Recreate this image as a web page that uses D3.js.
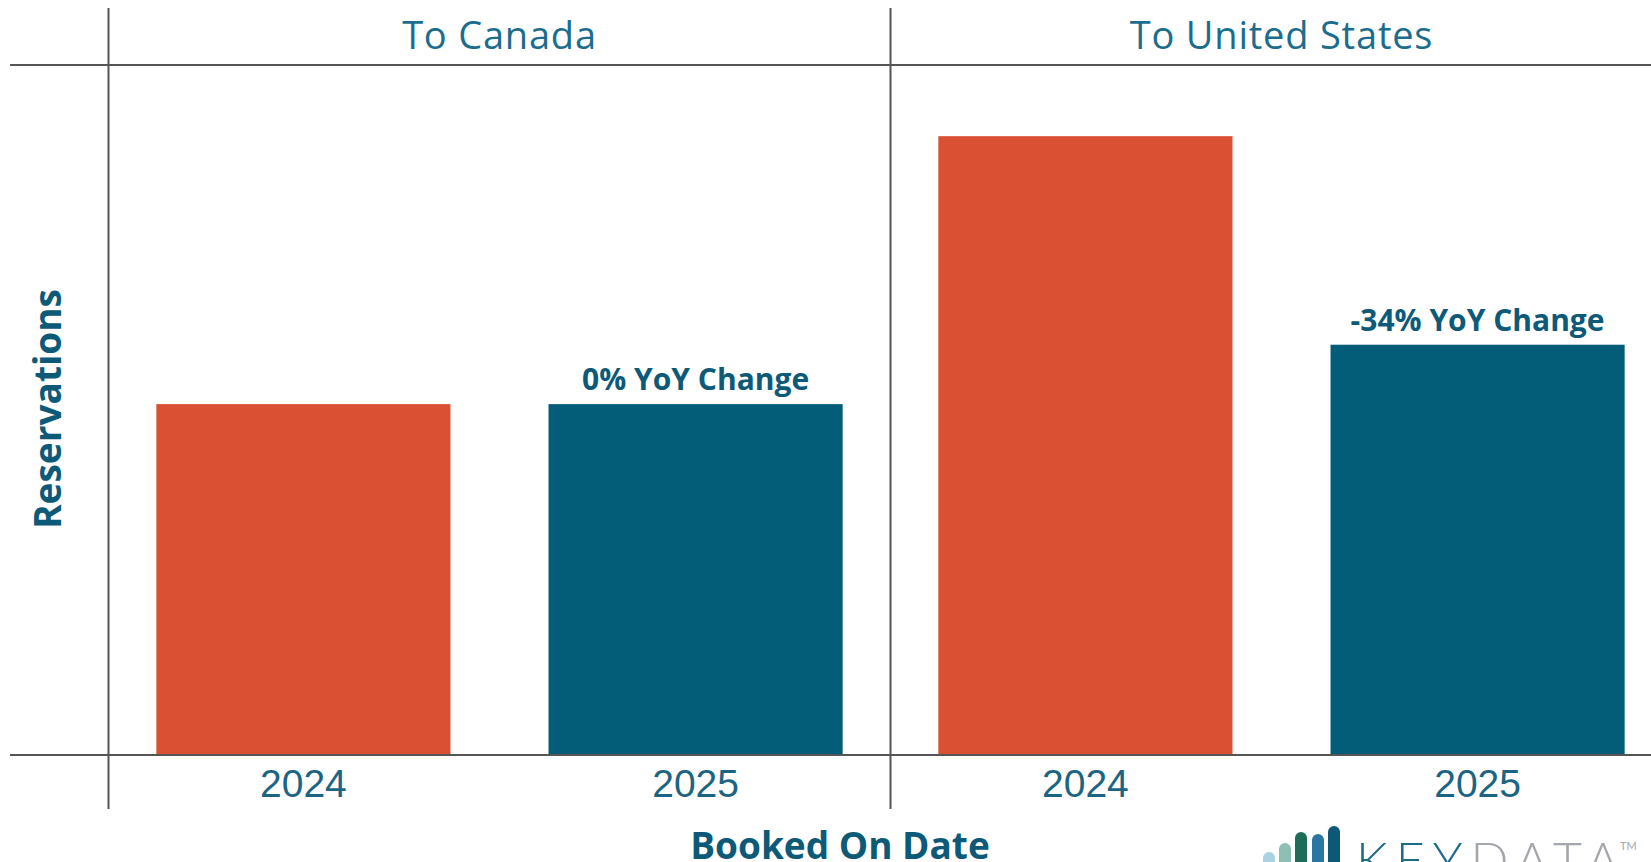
<!DOCTYPE html>
<html>
<head>
<meta charset="utf-8">
<script src="https://cdn.jsdelivr.net/npm/d3@7"></script>
<style>
  body { margin: 0; background: #fff; overflow: hidden; }
  svg { display: block; }
</style>
</head>
<body>
<svg id="chart"></svg>
<script>
var facets = ["To Canada", "To United States"];
var years = ["2024", "2025"];
// relative reservations, US 2024 = 100
var canadaValues = [56.7, 56.7];
var usValues = [100, 66.3];
var yoyLabels = ["0% YoY Change", "-34% YoY Change"];

var yearColors = {"2024": "#da5033", "2025": "#035c78"};

var width = 1651, height = 862;
var plotTop = 65, plotBottom = 755;
var panelLeft = 108.5, panelWidth = 782;

var data = [];
facets.forEach(function(f, i){
  var vals = i == 0 ? canadaValues : usValues;
  years.forEach(function(y, j){
    data.push({facet: f, year: y, value: vals[j]});
  });
});

var svg = d3.select("#chart")
  .attr("width", width)
  .attr("height", height);

var fx = d3.scaleBand()
  .domain(facets)
  .range([panelLeft, panelLeft + panelWidth * facets.length]);

var x = d3.scaleBand()
  .domain(years)
  .range([0, panelWidth])
  .paddingInner(0.25)
  .paddingOuter(0.122);

var y = d3.scaleLinear()
  .domain([0, 111.5])
  .range([plotBottom, plotTop]);

var lineColor = "#555";

// bars
svg.append("g")
  .selectAll("rect")
  .data(data)
  .enter().append("rect")
    .attr("x", function(d){ return fx(d.facet) + x(d.year); })
    .attr("y", function(d){ return y(d.value); })
    .attr("width", x.bandwidth())
    .attr("height", function(d){ return y(0) - y(d.value); })
    .attr("fill", function(d){ return yearColors[d.year]; });

// frame lines
svg.append("line")
  .attr("x1", 10).attr("x2", width)
  .attr("y1", plotTop).attr("y2", plotTop)
  .attr("stroke", lineColor).attr("stroke-width", 2);

svg.append("line")
  .attr("x1", 10).attr("x2", width)
  .attr("y1", y(0)).attr("y2", y(0))
  .attr("stroke", lineColor).attr("stroke-width", 2);

svg.append("g")
  .selectAll("line")
  .data(facets)
  .enter().append("line")
    .attr("x1", function(d){ return fx(d); })
    .attr("x2", function(d){ return fx(d); })
    .attr("y1", 8).attr("y2", 809)
    .attr("stroke", lineColor).attr("stroke-width", 2);

// facet titles
svg.append("g")
  .selectAll("text")
  .data(facets)
  .enter().append("text")
    .attr("x", function(d){ return fx(d) + panelWidth / 2; })
    .attr("y", 49)
    .attr("text-anchor", "middle")
    .style("font-family", "'Open Sans', sans-serif")
    .style("font-size", "38px")
    .style("letter-spacing", "0.8px")
    .style("fill", "#1b6d8d")
    .text(function(d){ return d; });

// year tick labels
svg.append("g")
  .selectAll("text")
  .data(data)
  .enter().append("text")
    .attr("x", function(d){ return fx(d.facet) + x(d.year) + x.bandwidth() / 2; })
    .attr("y", 797)
    .attr("text-anchor", "middle")
    .style("font-family", "'Liberation Sans', Arial, sans-serif")
    .style("font-size", "39px")
    .style("fill", "#1b6483")
    .text(function(d){ return d.year; });

// YoY labels over 2025 bars
svg.append("g")
  .selectAll("text")
  .data(data.filter(function(d){ return d.year == "2025"; }))
  .enter().append("text")
    .attr("x", function(d){ return fx(d.facet) + x(d.year) + x.bandwidth() / 2; })
    .attr("y", function(d){ return y(d.value) - 14; })
    .attr("text-anchor", "middle")
    .style("font-family", "'Open Sans', sans-serif")
    .style("font-weight", "bold")
    .style("font-size", "30px")
    .style("fill", "#0d5a78")
    .text(function(d, i){ return yoyLabels[i]; });

// axis titles
svg.append("text")
  .attr("x", 840)
  .attr("y", 859)
  .attr("text-anchor", "middle")
  .style("font-family", "'Open Sans', sans-serif")
  .style("font-weight", "bold")
  .style("font-size", "37px")
  .style("fill", "#0d5a78")
  .text("Booked On Date");

svg.append("text")
  .attr("transform", "translate(61,409) rotate(-90)")
  .attr("text-anchor", "middle")
  .style("font-family", "'Open Sans', sans-serif")
  .style("font-weight", "bold")
  .style("font-size", "37px")
  .style("fill", "#0d5a78")
  .text("Reservations");

// KEYDATA logo (bottom right, cut by the frame)
var logo = svg.append("g");
var logoBars = [
  {x: 1263, top: 852, c: "#a9d3e0"},
  {x: 1279, top: 843, c: "#8ebfb4"},
  {x: 1295, top: 832, c: "#1d6d58"},
  {x: 1312, top: 834, c: "#2a76a0"},
  {x: 1328, top: 826, c: "#0e5877"}
];
logo.selectAll("rect")
  .data(logoBars)
  .enter().append("rect")
    .attr("x", function(d){ return d.x; })
    .attr("y", function(d){ return d.top; })
    .attr("width", 12)
    .attr("height", function(d){ return 900 - d.top; })
    .attr("rx", 6)
    .attr("fill", function(d){ return d.c; });

var logoText = logo.append("text")
  .attr("x", 1356)
  .attr("y", 878)
  .style("font-family", "Lato, sans-serif")
  .style("font-weight", 300)
  .style("font-size", "50px")
  .style("letter-spacing", "8px");
logoText.append("tspan").style("fill", "#1f6c8a").text("KEY");
logoText.append("tspan").style("fill", "#a3a7ab").text("DATA");

logo.append("text")
  .attr("x", 1620)
  .attr("y", 850)
  .style("font-family", "Lato, sans-serif")
  .style("font-size", "11px")
  .style("fill", "#a3a7ab")
  .text("TM");
</script>
</body>
</html>
